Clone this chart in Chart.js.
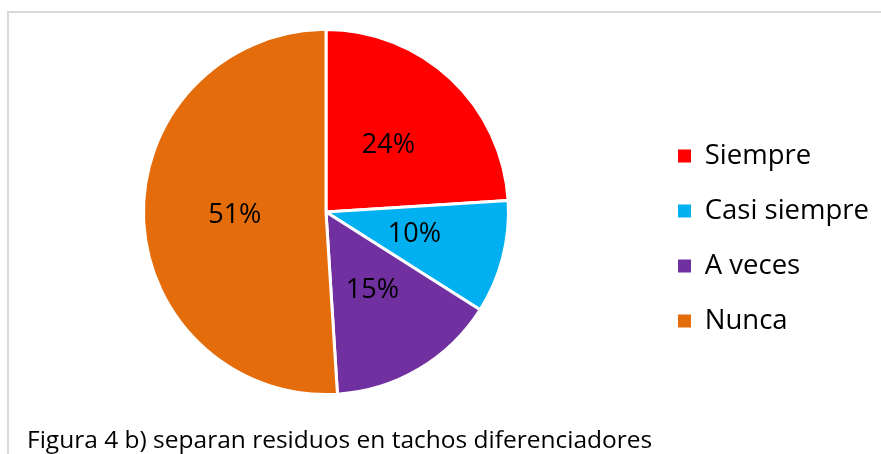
<!DOCTYPE html>
<html>
<head>
<meta charset="utf-8">
<script src="https://cdn.jsdelivr.net/npm/chart.js@4/dist/chart.umd.min.js"></script>
<style>
  html, body { margin: 0; padding: 0; background: #fff; overflow: hidden; }
  #wrap { position: relative; width: 881px; height: 454px; }
  #frame { position: absolute; left: 7px; top: 11px; right: -20px; bottom: -20px; border: 2px solid #d9d9d9; }
  #pieChart { position: absolute; left: 0; top: 0; }
  #caption { position: absolute; left: 27px; top: 427px; font: 24.5px/24.5px "Open Sans", sans-serif; color: #000; white-space: nowrap; }
</style>
</head>
<body>
<div id="wrap">
  <div id="frame"></div>
  <canvas id="pieChart" width="881" height="454"></canvas>
  <div id="caption">Figura 4 b) separan residuos en tachos diferenciadores</div>
</div>
<script>
// answers to "separan residuos en tachos diferenciadores"
const categories = ["Siempre", "Casi siempre", "A veces", "Nunca"];
const percents = [24, 10, 15, 51];
const sliceColors = ["#ff0000", "#00b0f0", "#7030a0", "#e46c0a"];

const FONT = "'Open Sans', sans-serif";
const legendFontSize = 27.5;
const legendPadding = 27.5;
const boxSize = 13;
const legendLeft = 650.5;

// work out how wide the legend will be so it starts at legendLeft
const measure = document.createElement("canvas").getContext("2d");
measure.font = legendFontSize + "px " + FONT;
const widest = Math.max(...categories.map(c => measure.measureText(c).width));
const legendWidth = legendPadding + boxSize + legendFontSize / 2 + widest + 10;
const rightPad = Math.max(0, 881 - legendLeft - legendWidth);

// percent labels in the middle of each slice
const sliceLabels = {
  id: "sliceLabels",
  afterDatasetsDraw(chart) {
    const ctx = chart.ctx;
    const meta = chart.getDatasetMeta(0);
    ctx.save();
    ctx.font = "27px " + FONT;
    ctx.fillStyle = "#000";
    ctx.textAlign = "center";
    ctx.textBaseline = "middle";
    meta.data.forEach((arc, i) => {
      const pos = arc.tooltipPosition();
      ctx.fillText(percents[i] + "%", pos.x, pos.y);
    });
    ctx.restore();
  }
};

Chart.defaults.color = "#000";

new Chart(document.getElementById("pieChart"), {
  type: "pie",
  data: {
    labels: categories,
    datasets: [{
      data: percents,
      backgroundColor: sliceColors,
      borderColor: "#ffffff",
      borderWidth: 3
    }]
  },
  options: {
    responsive: false,
    animation: false,
    layout: {
      padding: { left: 652 - legendLeft, right: rightPad, top: 28, bottom: 58 }
    },
    plugins: {
      tooltip: { enabled: false },
      legend: {
        display: true,
        position: "right",
        align: "center",
        title: { display: true, text: "", font: { size: 13, lineHeight: 1 }, padding: { top: 40, bottom: 0 } },
        labels: {
          font: { family: FONT, size: legendFontSize },
          color: "#000",
          boxWidth: boxSize,
          boxHeight: boxSize,
          padding: legendPadding,
          generateLabels(chart) {
            const base = Chart.overrides.pie.plugins.legend.labels.generateLabels(chart);
            return base.map(item => ({ ...item, lineWidth: 0 }));
          }
        }
      }
    }
  },
  plugins: [sliceLabels]
});
</script>
</body>
</html>
